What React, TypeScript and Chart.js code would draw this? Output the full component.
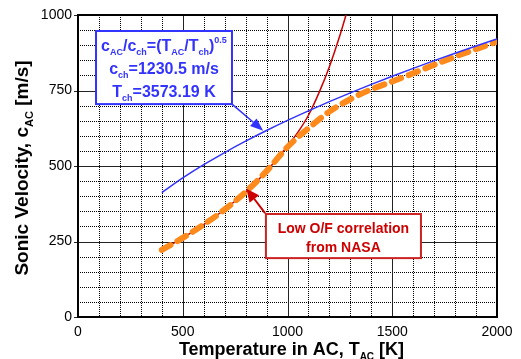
import React, { useEffect, useRef } from "react";
import { Chart, registerables } from "chart.js";
Chart.register(...registerables);

// ---- data ----
const blueT = [400, 500, 600, 700, 800, 900, 1000, 1100, 1200, 1300, 1400, 1500, 1600, 1700, 1800, 1900, 2000];
const blueC = [411.7, 460.3, 504.2, 544.6, 582.2, 617.6, 651.0, 682.7, 713.1, 742.2, 770.2, 797.3, 823.4, 848.8, 873.4, 897.3, 920.6];

const orangeT = [400, 500, 600, 700, 800, 900, 1000, 1100, 1200, 1300, 1400, 1500, 1600, 1700, 1800, 1900, 2000];
const orangeC = [222, 262, 306, 356, 414, 483, 563, 625, 680, 721, 754, 780, 807, 835, 862, 887, 912];

const redT = [400, 500, 600, 700, 800, 900, 1000, 1050, 1100, 1150, 1200, 1250, 1300];
const redC = [222, 262, 306, 356, 414, 483, 566, 612, 668, 742, 829, 932, 1050];

const xTicks = [0, 500, 1000, 1500, 2000];
const yTicks = [0, 250, 500, 750, 1000];

// annotation anchors (data coordinates)
const blueBox = { t0: 86, t1: 735, c0: 947, c1: 705 };
const blueArrowTip = { t: 884, c: 617 };
const redBox = { t0: 897, t1: 1637, c0: 341, c1: 195 };
const redArrowFrom = { t: 893, c: 344 };
const redArrowTip = { t: 804, c: 425 };

const FONT = '"Liberation Sans", Arial, sans-serif';
const SUB = 0.58;

type Seg = { t: string; k?: "sub" | "sup" };

function richWidth(ctx: CanvasRenderingContext2D, segs: Seg[], size: number) {
  let w = 0;
  for (const s of segs) {
    ctx.font = `bold ${s.k ? Math.round(size * SUB) : size}px ${FONT}`;
    w += ctx.measureText(s.t).width;
  }
  return w;
}

function drawRich(ctx: CanvasRenderingContext2D, segs: Seg[], cx: number, baseY: number, size: number, color: string) {
  const total = richWidth(ctx, segs, size);
  let x = cx - total / 2;
  ctx.fillStyle = color;
  ctx.textAlign = "left";
  ctx.textBaseline = "alphabetic";
  for (const s of segs) {
    const sz = s.k ? Math.round(size * SUB) : size;
    ctx.font = `bold ${sz}px ${FONT}`;
    const dy = s.k === "sub" ? size * 0.28 : s.k === "sup" ? -size * 0.45 : 0;
    ctx.fillText(s.t, x, baseY + dy);
    x += ctx.measureText(s.t).width;
  }
}

function arrow(ctx: CanvasRenderingContext2D, x0: number, y0: number, x1: number, y1: number, color: string, lw: number, hl: number, hw: number) {
  const ang = Math.atan2(y1 - y0, x1 - x0);
  const bx = x1 - hl * Math.cos(ang);
  const by = y1 - hl * Math.sin(ang);
  ctx.strokeStyle = color;
  ctx.lineWidth = lw;
  ctx.setLineDash([]);
  ctx.beginPath();
  ctx.moveTo(x0, y0);
  ctx.lineTo(bx, by);
  ctx.stroke();
  ctx.fillStyle = color;
  ctx.beginPath();
  ctx.moveTo(x1, y1);
  ctx.lineTo(bx + hw * Math.sin(ang), by - hw * Math.cos(ang));
  ctx.lineTo(bx - hw * Math.sin(ang), by + hw * Math.cos(ang));
  ctx.closePath();
  ctx.fill();
}

const gridPlugin = {
  id: "customGrid",
  beforeDatasetsDraw(chart: any) {
    const { ctx, chartArea: a, scales } = chart;
    const xs = scales.x, ys = scales.y;
    ctx.save();
    // minor dotted
    ctx.strokeStyle = "#000";
    ctx.lineWidth = 1;
    ctx.setLineDash([1, 1]);
    for (let v = 100; v < 2000; v += 100) {
      if (v % 500 === 0) continue;
      const px = Math.round(xs.getPixelForValue(v)) + 0.5;
      ctx.beginPath(); ctx.moveTo(px, a.top); ctx.lineTo(px, a.bottom); ctx.stroke();
    }
    for (let v = 50; v < 1000; v += 50) {
      if (v % 250 === 0) continue;
      const py = Math.round(ys.getPixelForValue(v)) + 0.5;
      ctx.beginPath(); ctx.moveTo(a.left, py); ctx.lineTo(a.right, py); ctx.stroke();
    }
    // major solid
    ctx.setLineDash([]);
    ctx.strokeStyle = "#222";
    for (const v of xTicks) {
      const px = Math.round(xs.getPixelForValue(v)) + 0.5;
      ctx.beginPath(); ctx.moveTo(px, a.top); ctx.lineTo(px, a.bottom); ctx.stroke();
    }
    for (const v of yTicks) {
      const py = Math.round(ys.getPixelForValue(v)) + 0.5;
      ctx.beginPath(); ctx.moveTo(a.left, py); ctx.lineTo(a.right, py); ctx.stroke();
      ctx.beginPath(); ctx.moveTo(a.left - 4, py); ctx.lineTo(a.left, py); ctx.stroke();
    }
    // frame
    ctx.lineWidth = 2;
    ctx.strokeStyle = "#000";
    ctx.strokeRect(a.left, a.top, a.right - a.left, a.bottom - a.top);
    ctx.restore();
  },
  afterDatasetsDraw(chart: any) {
    const { ctx, scales } = chart;
    const X = (t: number) => scales.x.getPixelForValue(t);
    const Y = (c: number) => scales.y.getPixelForValue(c);
    ctx.save();
    // blue box
    const bx0 = X(blueBox.t0), bx1 = X(blueBox.t1), by0 = Y(blueBox.c0), by1 = Y(blueBox.c1);
    arrow(ctx, bx1, by1, X(blueArrowTip.t), Y(blueArrowTip.c), "#3333FF", 1.6, 13, 5);
    ctx.fillStyle = "#fff";
    ctx.fillRect(bx0, by0, bx1 - bx0, by1 - by0);
    ctx.strokeStyle = "#3333FF";
    ctx.lineWidth = 2;
    ctx.strokeRect(bx0, by0, bx1 - bx0, by1 - by0);
    const bcx = (bx0 + bx1) / 2;
    const blue = "#3333FF";
    drawRich(ctx, [
      { t: "c" }, { t: "AC", k: "sub" }, { t: "/c" }, { t: "ch", k: "sub" }, { t: "=(T" }, { t: "AC", k: "sub" },
      { t: "/T" }, { t: "ch", k: "sub" }, { t: ")" }, { t: "0.5", k: "sup" },
    ], bcx, by0 + 19.5, 16, blue);
    drawRich(ctx, [{ t: "c" }, { t: "ch", k: "sub" }, { t: "=1230.5 m/s" }], bcx, by0 + 43, 16, blue);
    drawRich(ctx, [{ t: "T" }, { t: "ch", k: "sub" }, { t: "=3573.19 K" }], bcx, by0 + 66, 16, blue);

    // red box
    const rx0 = X(redBox.t0), rx1 = X(redBox.t1), ry0 = Y(redBox.c0), ry1 = Y(redBox.c1);
    arrow(ctx, X(redArrowFrom.t), Y(redArrowFrom.c), X(redArrowTip.t), Y(redArrowTip.c), "#CC0000", 2, 13, 6);
    ctx.fillStyle = "#fff";
    ctx.fillRect(rx0, ry0, rx1 - rx0, ry1 - ry0);
    ctx.strokeStyle = "#CC2222";
    ctx.lineWidth = 2;
    ctx.strokeRect(rx0, ry0, rx1 - rx0, ry1 - ry0);
    const rcx = (rx0 + rx1) / 2;
    drawRich(ctx, [{ t: "Low O/F correlation" }], rcx, ry0 + 19.3, 14, "#CC0000");
    drawRich(ctx, [{ t: "from NASA" }], rcx, ry0 + 37.7, 14, "#CC0000");
    ctx.restore();
  },
  afterDraw(chart: any) {
    const { ctx, chartArea: a } = chart;
    ctx.save();
    drawRich(ctx, [{ t: "Temperature in AC, T" }, { t: "AC", k: "sub" }, { t: " [K]" }], (a.left + a.right) / 2 + 4, 355, 18, "#000");
    ctx.translate(28, 168);
    ctx.rotate(-Math.PI / 2);
    drawRich(ctx, [{ t: "Sonic Velocity, c" }, { t: "AC", k: "sub" }, { t: " [m/s]" }], 0, 0, 19, "#000");
    ctx.restore();
  },
};

export default function App() {
  const ref = useRef<HTMLCanvasElement | null>(null);
  useEffect(() => {
    if (!ref.current) return;
    const toXY = (ts: number[], cs: number[]) => ts.map((t, i) => ({ x: t, y: cs[i] }));
    const chart = new Chart(ref.current, {
      type: "line",
      data: {
        datasets: [
          {
            data: toXY(blueT, blueC),
            borderColor: "#3333FF",
            borderWidth: 1.5,
            pointRadius: 0,
            cubicInterpolationMode: "monotone",
          },
          {
            data: toXY(orangeT, orangeC),
            borderColor: "#FF8A1C",
            borderWidth: 6,
            borderDash: [10, 8],
            borderCapStyle: "round",
            pointRadius: 0,
            cubicInterpolationMode: "monotone",
          },
          {
            data: toXY(redT, redC),
            borderColor: "#CC0000",
            borderWidth: 1.5,
            pointRadius: 0,
            cubicInterpolationMode: "monotone",
          },
        ],
      },
      options: {
        animation: false,
        responsive: false,
        events: [],
        layout: { padding: { top: 15, right: 24, left: 0, bottom: 0 } },
        plugins: { legend: { display: false }, tooltip: { enabled: false }, title: { display: false } },
        scales: {
          x: {
            type: "linear",
            min: 0,
            max: 2000,
            grid: { display: false, drawTicks: false },
            border: { display: false },
            ticks: { stepSize: 500, autoSkip: false, maxRotation: 0, padding: 7, color: "#000", font: { size: 14, family: FONT }, callback: (v: any) => String(v) },
            afterFit: (s: any) => { s.height = 42; },
          },
          y: {
            type: "linear",
            min: 0,
            max: 1000,
            grid: { display: false, drawTicks: false },
            border: { display: false },
            ticks: { stepSize: 250, autoSkip: false, padding: 6, color: "#000", font: { size: 14, family: FONT }, callback: (v: any) => String(v) },
            afterFit: (s: any) => { s.width = 78; },
          },
        },
      } as any,
      plugins: [gridPlugin],
    });
    return () => chart.destroy();
  }, []);
  return (
    <div style={{ position: "absolute", left: 0, top: 0, width: 521, height: 359, background: "#fff" }}>
      <canvas ref={ref} width={521} height={359} style={{ display: "block" }} />
    </div>
  );
}
